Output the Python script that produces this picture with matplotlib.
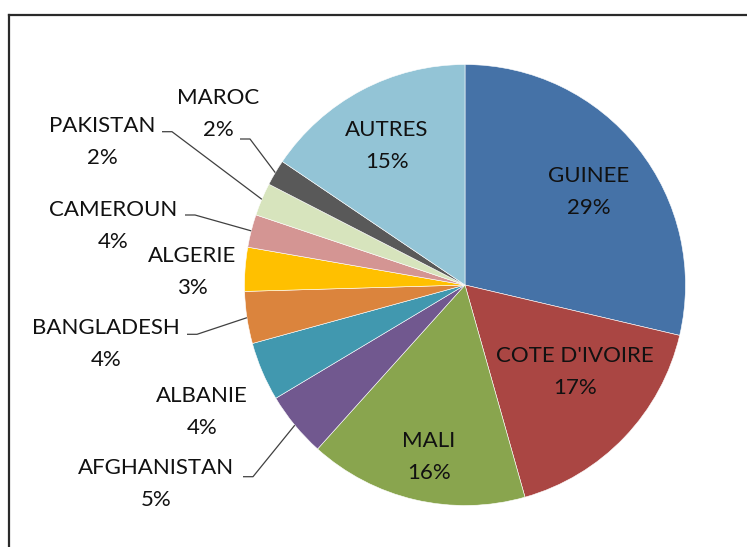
import numpy as np
import matplotlib
matplotlib.use("Agg")
import matplotlib.pyplot as plt
from matplotlib.lines import Line2D

# ---- data ----
names = ["GUINEE", "COTE D'IVOIRE", "MALI", "AFGHANISTAN", "ALBANIE", "BANGLADESH",
         "ALGERIE", "CAMEROUN", "PAKISTAN", "MAROC", "AUTRES"]
shares = [28.6, 16.9, 16.0, 4.75, 4.3, 3.8, 3.2, 2.4, 2.4, 1.9, 15.5]
pct_labels = ["29%", "17%", "16%", "5%", "4%", "4%", "3%", "4%", "2%", "2%", "15%"]

# ---- style / layout ----
colors = ["#4572A7", "#AA4643", "#89A54E", "#71588F", "#4198AF", "#DB843D",
          "#FFC000", "#D49593", "#D7E4BD", "#595959", "#93C4D6"]
W, H = 747, 547
cx, cy, R = 465, 285, 220.5           # pie centre / radius in pixel (top-origin)
# label block centres (pixel, top-origin)
label_pos = [(589, 192), (575, 372.5), (429, 457), (156.5, 484), (201.7, 412.5),
             (106, 344), (192, 272), (113.5, 226), (102, 142.5), (218.5, 114.5),
             (387, 146)]
# leader line start (pixel, top-origin) or None
leader_start = [None, None, None, (243, 476.7), None, (187, 334.3), None,
                (185, 215), (162, 131.7), (240, 139), None]
HALF_GAP = 16
FONT = "Lato"
FS = 16

fig = plt.figure(figsize=(W / 100, H / 100), dpi=100)
ax = fig.add_axes([0, 0, 1, 1])

wedges, _ = ax.pie(shares, colors=colors, startangle=90, counterclock=False,
                   center=(cx, H - cy), radius=R,
                   wedgeprops=dict(edgecolor="white", linewidth=0.4))
ax.set_xlim(0, W)
ax.set_ylim(0, H)
ax.set_aspect("equal")
ax.axis("off")

for i, w in enumerate(wedges):
    bx, by = label_pos[i]
    ax.text(bx, H - (by - HALF_GAP), names[i], ha="center", va="center",
            fontsize=FS, family=FONT, color="#111111")
    ax.text(bx, H - (by + HALF_GAP), pct_labels[i], ha="center", va="center",
            fontsize=FS, family=FONT, color="#111111")
    if leader_start[i] is not None:
        mid = np.deg2rad((w.theta1 + w.theta2) / 2)
        ex = cx + R * np.cos(mid)
        ey = (H - cy) + R * np.sin(mid)
        sx, sy = leader_start[i]
        ax.plot([sx, sx + 10, ex], [H - sy, H - sy, ey], color="#404040",
                lw=0.9, solid_capstyle="butt")

# chart-area frame (top and left edges visible)
fig.add_artist(Line2D([9 / W, 1], [1 - 15 / H, 1 - 15 / H], color="#2a2a2a", lw=1.6,
                      transform=fig.transFigure))
fig.add_artist(Line2D([9 / W, 9 / W], [1 - 15 / H, 0], color="#2a2a2a", lw=1.6,
                      transform=fig.transFigure))

fig.savefig("out.png", dpi=100, facecolor="white")
